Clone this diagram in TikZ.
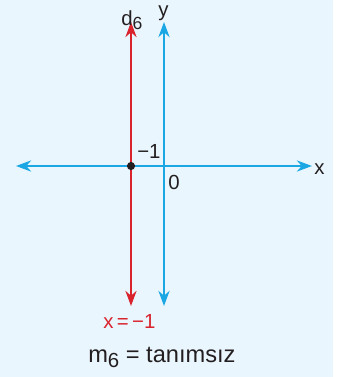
\documentclass[tikz,border=0pt]{standalone}
\usepackage{fontspec}
\setmainfont{Liberation Sans}
\usetikzlibrary{arrows.meta,positioning}
\definecolor{PaperBlue}{HTML}{EAF6FD}
\definecolor{AxisBlue}{HTML}{1AA7E4}
\definecolor{LineRed}{HTML}{D9232D}
\definecolor{Ink}{HTML}{231F20}
\newcommand{\lowidx}[2]{\raisebox{-0.45ex}{\fontsize{#1}{#1}\selectfont #2}}
\tikzset{
  axis/.style={{Stealth[length=3.8mm,width=2.8mm]}-{Stealth[length=3.8mm,width=2.8mm]},line width=1.1pt,color=AxisBlue},
  redline/.style={{Stealth[length=3.8mm,width=2.8mm]}-{Stealth[length=3.8mm,width=2.8mm]},line width=1.1pt,color=LineRed},
  lbl/.style={font=\fontsize{14.5}{17}\selectfont,text=Ink,inner sep=0pt},
  biglbl/.style={font=\fontsize{16.8}{20}\selectfont,text=Ink,inner sep=0pt}
}

\begin{document}
\begin{tikzpicture}[x=0.025cm,y=-0.025cm]
  \useasboundingbox (0,0) rectangle (342,377);
  \fill[PaperBlue] (0,0) rectangle (333,377);
  % axes
  \coordinate (xl) at (16,166);
  \coordinate (xr) at (312,166);
  \coordinate (yt) at (164,22);
  \coordinate (yb) at (164,306);
  \draw[axis] (xl) -- (xr);
  \draw[axis] (yt) -- (yb);
  \node[lbl,anchor=base west] (xlab) at (314,174) {x};
  \node[lbl,anchor=base west] (ylab) at (158,16) {y};
  % vertical line x=-1
  \coordinate (dt) at (131,22);
  \coordinate (db) at (131,306);
  \draw[redline] (dt) -- (db);
  \fill[Ink] (131,166) circle (2.9pt) coordinate (pt);
  \node[lbl,anchor=base west] (dlab) at (121,25) {d\lowidx{12.5}{6}};
  \node[lbl,anchor=base west] (m1) at (137,158) {−1};
  \node[lbl,anchor=base west] (zero) at (168,189) {0};
  \node[lbl,text=LineRed,anchor=base west] (eq) at (103,328) {x\,=\,−1};
  \node[biglbl,anchor=base west] (slope) at (88,362) {m\lowidx{14.5}{6} = tanımsız};
\end{tikzpicture}
\end{document}
